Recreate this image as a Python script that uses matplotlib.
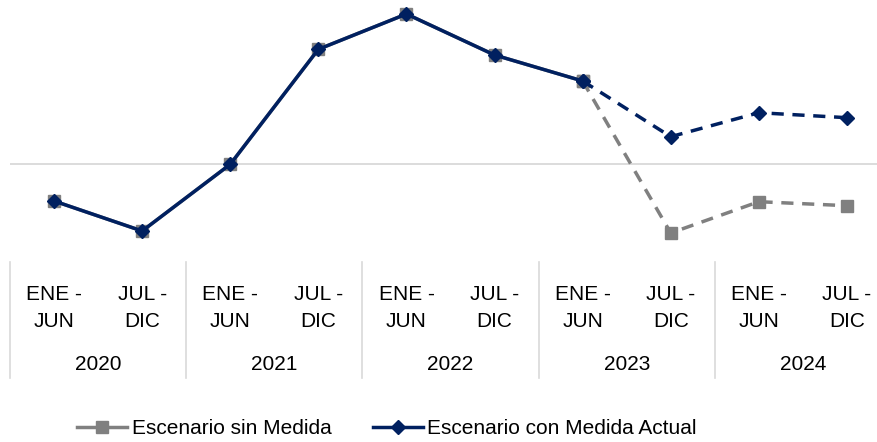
import matplotlib
matplotlib.use("Agg")
import matplotlib.pyplot as plt
from matplotlib import font_manager
from matplotlib.lines import Line2D
from matplotlib.transforms import blended_transform_factory

names = {f.name for f in font_manager.fontManager.ttflist}
fam = "Liberation Sans Narrow" if "Liberation Sans Narrow" in names else "Liberation Sans"
plt.rcParams['font.family'] = [fam, 'DejaVu Sans']

periods = ["ENE -\nJUN", "JUL -\nDIC"] * 5
years = ["2020", "2021", "2022", "2023", "2024"]
historico = [-3.67, -6.67, 0.0, 11.5, 15.03, 10.93, 8.33]
con_medida_proy = [8.33, 2.76, 5.16, 4.66]
sin_medida_proy = [8.33, -6.87, -3.74, -4.14]

NAVY = "#002060"
GRAY = "#808080"
FS = 15

W, H = 878, 442
fig = plt.figure(figsize=(W / 100, H / 100), dpi=100)
ax = fig.add_axes([10 / W, 1 - 262 / H, 881 / W, 262 / H])
ax.set_xlim(-0.5, 9.5)
ax.set_ylim(-9.77, 16.43)
for s in ax.spines.values():
    s.set_visible(False)
ax.set_yticks([])
ax.axhline(0, color="#d9d9d9", lw=1.3, zorder=1)

xh = list(range(len(historico)))
xp = list(range(len(historico) - 1, len(historico) - 1 + len(con_medida_proy)))

# gray scenario (underneath)
ax.plot(xh, historico, color=GRAY, lw=2.5, marker="s", ms=8, zorder=2)
ax.plot(xp, sin_medida_proy, color=GRAY, lw=2.5, ls=(0, (3.5, 2.5)), marker="s", ms=8, zorder=2)
# navy scenario
ax.plot(xh, historico, color=NAVY, lw=2.5, marker="D", ms=7.2, zorder=3)
ax.plot(xp, con_medida_proy, color=NAVY, lw=2.5, ls=(0, (3.5, 2.5)), marker="D", ms=7.2, zorder=3)

ax.set_xticks(range(len(periods)))
ax.set_xticklabels(periods, fontsize=FS, linespacing=1.55)
ax.tick_params(axis="x", length=0, pad=16.5)

tr = blended_transform_factory(ax.transData, ax.transAxes)
for i, y in enumerate(years):
    ax.text(2 * i + 0.5, -102 / 262, y, transform=tr, ha="center", va="center",
            fontsize=FS, clip_on=False)
for b in range(6):
    ax.plot([2 * b - 0.5, 2 * b - 0.5], [0, -116 / 262], transform=tr, color="#d9d9d9",
            lw=1.2, clip_on=False)

handles = [
    Line2D([], [], color=GRAY, lw=2.5, marker="s", ms=8),
    Line2D([], [], color=NAVY, lw=2.5, marker="D", ms=7.2),
]
fig.legend(handles, ["Escenario sin Medida", "Escenario con Medida Actual"],
           loc="center", bbox_to_anchor=(387 / W, 1 - 429 / H), ncol=2, frameon=False,
           fontsize=FS, handlelength=2.4, handletextpad=0.2, columnspacing=2.0,
           borderpad=0, borderaxespad=0)

fig.savefig("out.png", dpi=100)
